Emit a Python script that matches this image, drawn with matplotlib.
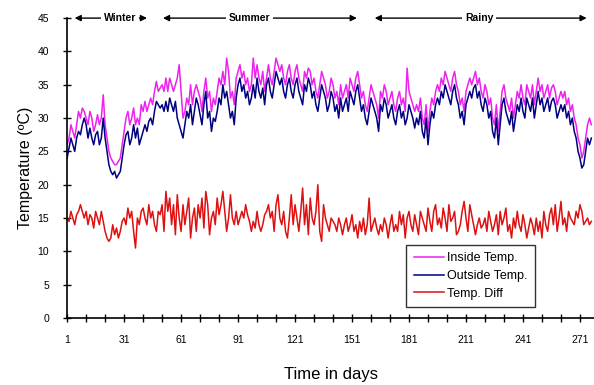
import numpy as np
import matplotlib.pyplot as plt

# Daily values (days 1..277)
inside_temp = [
    26, 27, 29, 28, 27, 29, 31, 30, 31.5, 31,
    30, 29, 31, 30, 28, 29, 30.5, 29, 30, 33.5,
    29, 27, 25, 24, 23.5, 23, 23, 23.5, 24, 26,
    28, 30, 31, 29, 30, 31.5, 29, 30, 29, 32,
    31, 32.5, 31, 32, 33, 32, 34, 35.5, 34, 34.5,
    35, 34, 36, 34, 36, 35, 34, 35, 36, 38,
    34, 30, 31, 33, 32, 35, 32, 34, 35, 34,
    33, 31, 34, 36, 33, 34, 31, 33, 32, 34,
    36, 35, 37, 35, 39, 37, 33, 34, 32, 36,
    37, 38, 36, 37, 35, 36, 34, 35, 39, 36,
    38, 36, 35, 37, 34, 36, 38, 36, 35, 37,
    39, 38, 37, 38, 36, 35, 37, 38, 36, 35,
    37, 38, 36, 35, 34, 37, 36, 37.5, 37, 35,
    36, 34, 33, 35, 37, 36, 35, 33, 34, 36,
    35, 33, 34, 32, 35, 33, 34, 35, 33, 36,
    35, 34, 36, 37, 35, 33, 34, 32, 31, 33,
    35, 34, 33, 32, 30, 34, 33, 35, 34, 32,
    33, 34, 32, 31, 33, 34, 32, 33, 31, 37.5,
    34, 33, 32, 31, 32, 31, 33, 30, 29, 32,
    28, 31, 33, 32, 34, 35, 34, 36, 35, 37,
    36, 35, 34, 36, 37, 35, 34, 32, 33, 31,
    34, 35, 36, 35, 36, 37, 35, 36, 34, 33,
    35, 34, 32, 33, 30, 29, 32, 28, 31, 34,
    35, 33, 32, 31, 33, 30, 32, 34, 33, 35,
    33, 32, 35, 34, 33, 35, 32, 34, 36, 34,
    35, 33, 34, 35, 33, 34.5, 35, 34, 32, 33,
    34, 33, 34, 32, 33, 31, 32, 30, 29, 27,
    26, 24, 25, 27, 29, 30, 29,
]

outside_temp = [
    24, 25.5, 27, 26, 25, 27, 28, 27.5, 29, 30,
    29, 27, 28.5, 27, 26, 27.5, 28, 26, 27, 30,
    27, 25, 23, 22, 21.5, 22, 21, 21.5, 22, 24,
    26, 27.5, 28, 26, 27, 29, 27, 28.5, 26, 27,
    28, 29, 28, 29.5, 30, 29, 31, 32.5, 32, 31.5,
    32, 31, 32.5, 31, 33, 32, 31, 32.5, 30, 29,
    28, 27, 29, 31, 30, 32, 29, 31, 33, 32,
    30.5, 29, 32, 34, 30, 31, 28, 30, 29.5, 31,
    33, 32, 35, 33, 34, 32, 30, 31, 29, 33,
    35, 36, 34, 35, 33, 34, 32, 33, 35, 33,
    36, 34, 33, 34.5, 32, 35, 36, 34, 33, 35,
    37, 36, 35, 36, 34, 33, 35, 36, 34, 33,
    35, 36, 34, 33, 32, 35, 34, 36, 35, 33,
    34, 32, 31, 33, 35, 34, 33, 31, 32, 34,
    33, 31, 32, 30, 33, 31, 32, 33, 31, 34,
    33, 32, 34, 35, 33, 31, 32, 30, 29, 31,
    33, 32, 31, 30, 28, 32, 31, 33, 32, 30,
    31, 32, 30, 29, 31, 32, 30, 31, 29, 30,
    32, 31, 30, 28.5, 30, 29, 31, 28, 27, 30,
    26, 29, 31, 30, 32, 33, 32, 34, 33, 35,
    34, 33, 32, 34, 35, 33, 32, 30, 31, 29,
    32, 33, 34, 33, 34.5, 35, 33, 34, 32, 31,
    33, 32, 30, 31, 28, 27, 30, 26, 29, 32,
    33, 31, 30, 29, 31, 28, 30, 32, 31, 33,
    31, 30, 33, 32, 31, 33, 30, 32, 34, 32,
    33, 31, 32, 33, 31, 32.5, 33, 32, 30, 31,
    32, 31, 32, 30, 31, 29, 30, 28, 27, 25,
    24, 22.5, 23, 25, 27, 26, 27,
]

temp_diff = [
    15, 14.5, 16, 15, 14, 15.5, 16, 17, 16, 15,
    16, 14, 15.5, 15, 13.5, 16, 15, 14, 16, 14.5,
    13, 12, 11.5, 12, 14, 12.5, 13.5, 12, 13, 14.5,
    15, 14, 16.5, 15, 16, 13, 10.5, 15, 14, 16,
    16.5, 15, 14, 17, 15, 16, 14, 13, 16, 15.5,
    17, 13, 19, 16, 18, 14, 17, 12.5, 18.5, 15,
    13, 17, 14, 16, 18, 12, 15, 16.5, 13, 17,
    15, 18, 13.5, 19, 17, 12.5, 15, 16, 14, 18,
    15.5, 17, 19, 16, 13, 15, 18.5, 15, 14, 16,
    14, 15, 16, 15, 17, 15.5, 14.5, 13, 14.5, 13.5,
    16, 14, 13, 14, 15.5, 16, 17, 15, 16, 13,
    17, 18.5, 15, 14, 16, 13, 12, 15, 18.5, 14,
    17, 15, 13, 16, 19.5, 14, 17, 12.5, 18, 15,
    14, 16, 20, 13, 11.5, 17, 15, 14, 13, 15,
    14.5, 14, 13, 15, 14, 12.5, 14, 15, 13, 14,
    15.5, 13, 14, 12, 14.5, 13, 15, 12.5, 14, 18,
    13, 14, 15, 13.5, 12.5, 14, 13, 15, 14, 12,
    14, 15.5, 13, 14, 13, 16, 14, 15.5, 12, 15,
    16, 14, 13, 15.5, 14, 12.5, 16, 15, 14, 13,
    16.5, 14.5, 13, 16, 17, 14, 15, 13.5, 16.5, 15,
    13, 17, 14.5, 15, 16, 12.5, 13, 14, 16, 17.5,
    15, 13, 17, 15.5, 14, 12.5, 14, 15, 13.5, 14,
    15, 13, 16, 14.5, 13, 14, 15.5, 12.5, 16, 14,
    15, 16.5, 13, 14, 12, 15, 13.5, 16, 14, 13,
    15.5, 14, 12, 13.5, 15, 14, 12.5, 15, 13, 14.5,
    12, 16, 14, 13, 15.5, 16.5, 14, 17, 13, 15,
    17.5, 14, 15, 13, 16, 15, 14.5, 14, 16, 15,
    17, 16, 14, 14.5, 15, 14, 14.5,
]

days = np.arange(1, len(outside_temp) + 1)

seasons = ["Winter", "Summer", "Rainy"]
season_spans = [(3.5, 44.5), (50, 155), (161.5, 276)]
season_label_day = [29, 97, 218]

plt.rcParams['font.family'] = ['Liberation Sans', 'DejaVu Sans']

fig = plt.figure(figsize=(5.94, 3.85), dpi=100)
ax = fig.add_axes([0.113, 0.174, 0.887, 0.779])

ax.plot(days, inside_temp, color='#ee22ee', lw=1.1, label='Inside Temp.')
ax.plot(days, outside_temp, color='#000080', lw=1.1, label='Outside Temp.')
ax.plot(days, temp_diff, color='#dd1111', lw=1.1, label='Temp. Diff')

ax.set_xlim(1, 278.4)
ax.set_ylim(0, 45)
ax.set_xticks(np.arange(1, 279, 30))
ax.set_xticks(np.arange(1, 279, 10), minor=True)
ax.set_yticks(np.arange(0, 46, 5))
ax.tick_params(axis='both', which='both', direction='inout', labelsize=7.5, width=1)
ax.tick_params(axis='both', which='major', length=6)
ax.tick_params(axis='x', which='minor', length=6)
ax.tick_params(axis='x', pad=9)
ax.tick_params(axis='y', pad=10)

for s in ['top', 'right']:
    ax.spines[s].set_visible(False)
for s in ['left', 'bottom']:
    ax.spines[s].set_linewidth(1.2)

ax.set_ylabel('Temperature (ºC)', fontsize=11.5)
ax.set_xlabel('Time in days', fontsize=12)
ax.yaxis.set_label_coords(-0.065, 0.5)
ax.xaxis.set_label_coords(0.5, -0.165)

# season arrows along the top
for name, (a, b), lx in zip(seasons, season_spans, season_label_day):
    ax.annotate('', xy=(a, 45), xytext=(b, 45),
                arrowprops=dict(arrowstyle='<|-|>', color='black', lw=1,
                                mutation_scale=9), annotation_clip=False)
    ax.text(lx, 45, name, ha='center', va='center',
            fontsize=7.5, fontweight='bold', clip_on=False,
            bbox=dict(facecolor='white', edgecolor='none', pad=2))

leg = ax.legend(loc='upper left', bbox_to_anchor=(406 / 594, 1 - 245 / 385),
                bbox_transform=fig.transFigure, fontsize=9, frameon=True,
                fancybox=False, handlelength=2.4, handletextpad=0.3,
                labelspacing=0.45, borderpad=0.6, borderaxespad=0)
leg.get_frame().set_edgecolor('black')
leg.get_frame().set_linewidth(1)

fig.savefig('out.png', dpi=100)
